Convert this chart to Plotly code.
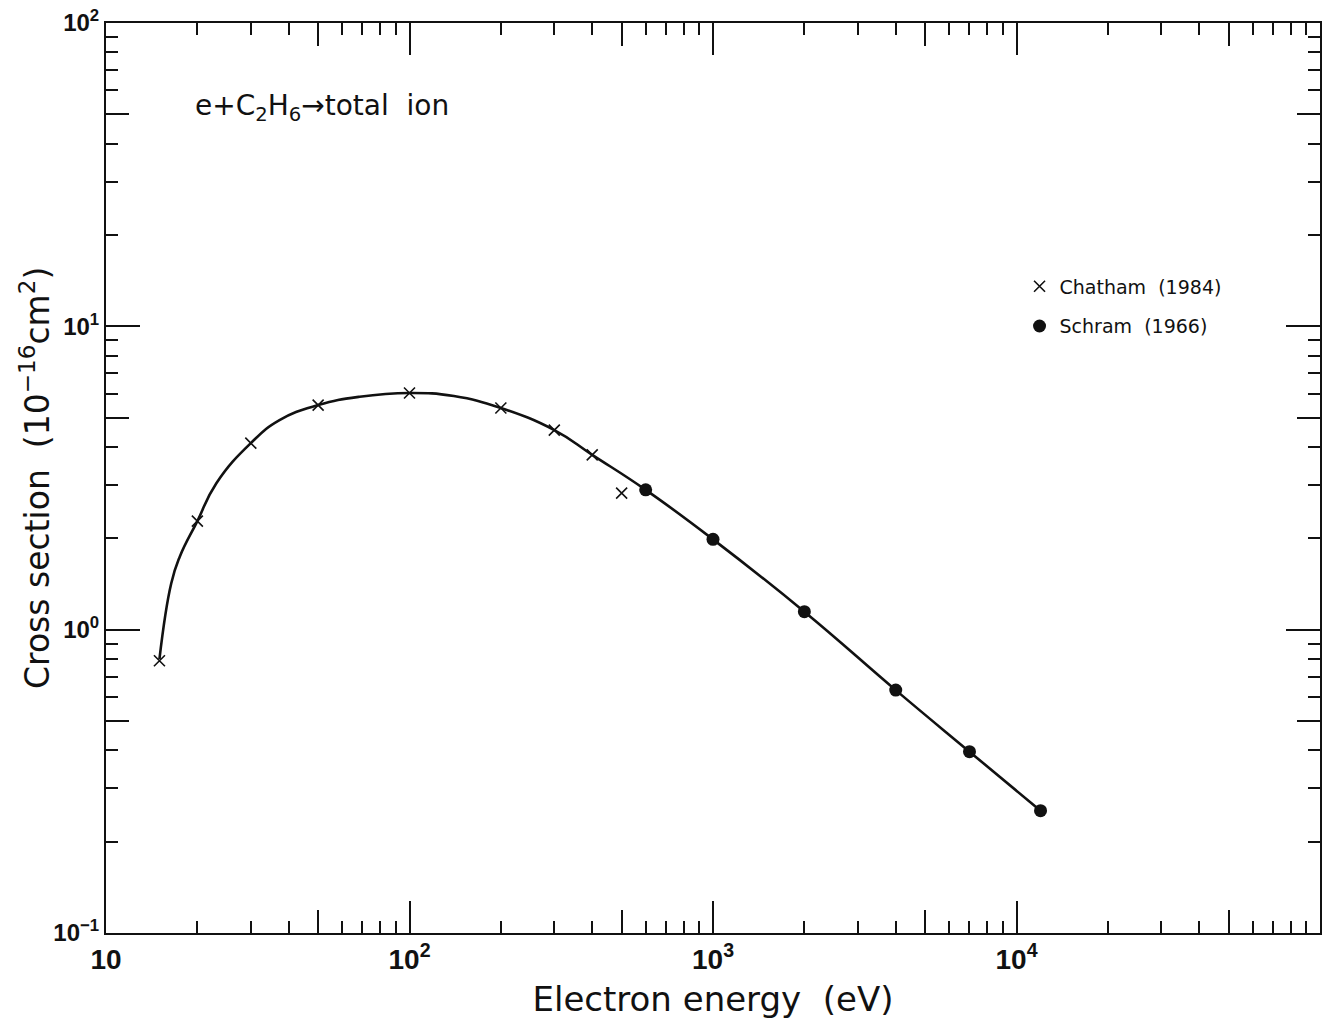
import plotly.graph_objects as go

# Electron-impact total ionization cross section of ethane (10^-16 cm^2)
chatham_energy = [15, 20, 30, 50, 100, 200, 300, 400, 500]
chatham_sigma = [0.79, 2.28, 4.12, 5.50, 6.03, 5.38, 4.55, 3.77, 2.82]

schram_energy = [600, 1000, 2000, 4000, 7000, 12000]
schram_sigma = [2.89, 1.985, 1.146, 0.632, 0.396, 0.253]

# recommended curve
curve_energy = [15, 16.4, 17.5, 20, 23.1, 30, 37.3, 50, 68.5, 100, 140, 200, 300, 400,
                600, 1000, 2000, 4000, 7000, 12000]
curve_sigma = [0.80, 1.42, 1.74, 2.28, 3.04, 4.12, 4.91, 5.50, 5.86, 6.03, 5.89, 5.38, 4.55, 3.77,
               2.89, 1.985, 1.146, 0.632, 0.396, 0.253]

x_major = [10, 100, 1000, 10000]
x_major_text = ["10", "10<sup>2</sup>", "10<sup>3</sup>", "10<sup>4</sup>"]
y_major = [0.1, 1, 10, 100]
y_major_text = ["10<sup>−1</sup>", "10<sup>0</sup>", "10<sup>1</sup>", "10<sup>2</sup>"]

x_decades = [10, 100, 1000, 10000]
y_decades = [0.1, 1, 10]
x_minor = [m * d for d in x_decades for m in (2, 3, 4, 6, 7, 8, 9)]
y_minor = [m * d for d in y_decades for m in (2, 3, 4, 6, 7, 8, 9)]
x_mid = [5 * d for d in x_decades]
y_mid = [5 * d for d in y_decades]

INK = "#111111"
TICK_FONT = "Liberation Sans, Arial, sans-serif"
TEXT_FONT = "DejaVu Sans, Liberation Sans, sans-serif"

fig = go.Figure()

fig.add_trace(go.Scatter(
    x=curve_energy, y=curve_sigma, mode="lines",
    line=dict(color=INK, width=2.6, shape="spline", smoothing=1.3),
    showlegend=False, hoverinfo="skip",
))
fig.add_trace(go.Scatter(
    x=chatham_energy, y=chatham_sigma, mode="markers", name="Chatham  (1984)",
    marker=dict(symbol="x-thin", size=11, color=INK, line=dict(color=INK, width=1.6)),
    legendgroup="a",
))
fig.add_trace(go.Scatter(
    x=schram_energy, y=schram_sigma, mode="markers", name="Schram  (1966)",
    marker=dict(symbol="circle", size=13, color=INK, line=dict(width=0)),
    legendgroup="b",
))

common_axis = dict(
    type="log", showgrid=False, zeroline=False, ticks="inside",
    tickcolor=INK, tickwidth=1.8, linecolor=INK, linewidth=2,
)

fig.update_layout(
    width=1322, height=1024,
    margin=dict(l=106, r=0, t=23, b=91),
    paper_bgcolor="white", plot_bgcolor="white",
    xaxis=dict(
        **common_axis, range=[1, 5], showline=True, mirror="ticks",
        tickmode="array", tickvals=x_major, ticktext=x_major_text, ticklen=32,
        tickfont=dict(family=TICK_FONT, size=28, color=INK, weight="bold"),
        minor=dict(ticks="inside", tickmode="array", tickvals=x_minor,
                   ticklen=12, tickwidth=1.6, tickcolor=INK, showgrid=False),
        title=dict(text="Electron energy  (eV)", standoff=14,
                   font=dict(family=TEXT_FONT, size=34, color=INK)),
    ),
    yaxis=dict(
        **common_axis, range=[-1, 2], showline=True, mirror="ticks",
        tickmode="array", tickvals=y_major, ticktext=y_major_text, ticklen=34,
        tickfont=dict(family=TICK_FONT, size=24, color=INK, weight="bold"),
        minor=dict(ticks="inside", tickmode="array", tickvals=y_minor,
                   ticklen=12, tickwidth=1.6, tickcolor=INK, showgrid=False),
    ),
    # medium-length ticks at the 5x positions
    xaxis2=dict(
        **common_axis, range=[1, 5], overlaying="x", anchor="y", side="bottom",
        showline=False, mirror="ticks", tickmode="array", tickvals=x_mid,
        ticklen=23, showticklabels=False,
    ),
    yaxis2=dict(
        **common_axis, range=[-1, 2], overlaying="y", anchor="x", side="left",
        showline=False, mirror="ticks", tickmode="array", tickvals=y_mid,
        ticklen=23, showticklabels=False,
    ),
    legend=dict(
        x=0.7525, y=0.7314, xanchor="left", yanchor="top",
        bgcolor="rgba(0,0,0,0)", tracegroupgap=12,
        font=dict(family=TEXT_FONT, size=19, color=INK),
        itemwidth=30,
    ),
    annotations=[
        dict(
            text="e+C<sub>2</sub>H<sub>6</sub>→total  ion",
            xref="paper", yref="paper", x=0.0715, y=0.9066,
            xanchor="left", yanchor="middle", showarrow=False,
            font=dict(family=TEXT_FONT, size=28, color=INK),
        ),
        # y-axis title
        dict(
            text="Cross section  (10<sup>−16</sup>cm<sup>2</sup>)",
            xref="paper", yref="paper", x=-0.0585, y=0.5,
            xanchor="center", yanchor="middle", textangle=-90, showarrow=False,
            font=dict(family=TEXT_FONT, size=33, color=INK),
        ),
    ],
)

# empty trace binds the overlay axes so their ticks are drawn
fig.add_trace(go.Scatter(x=[], y=[], xaxis="x2", yaxis="y2", showlegend=False, hoverinfo="skip"))

fig.write_html("out.html")
